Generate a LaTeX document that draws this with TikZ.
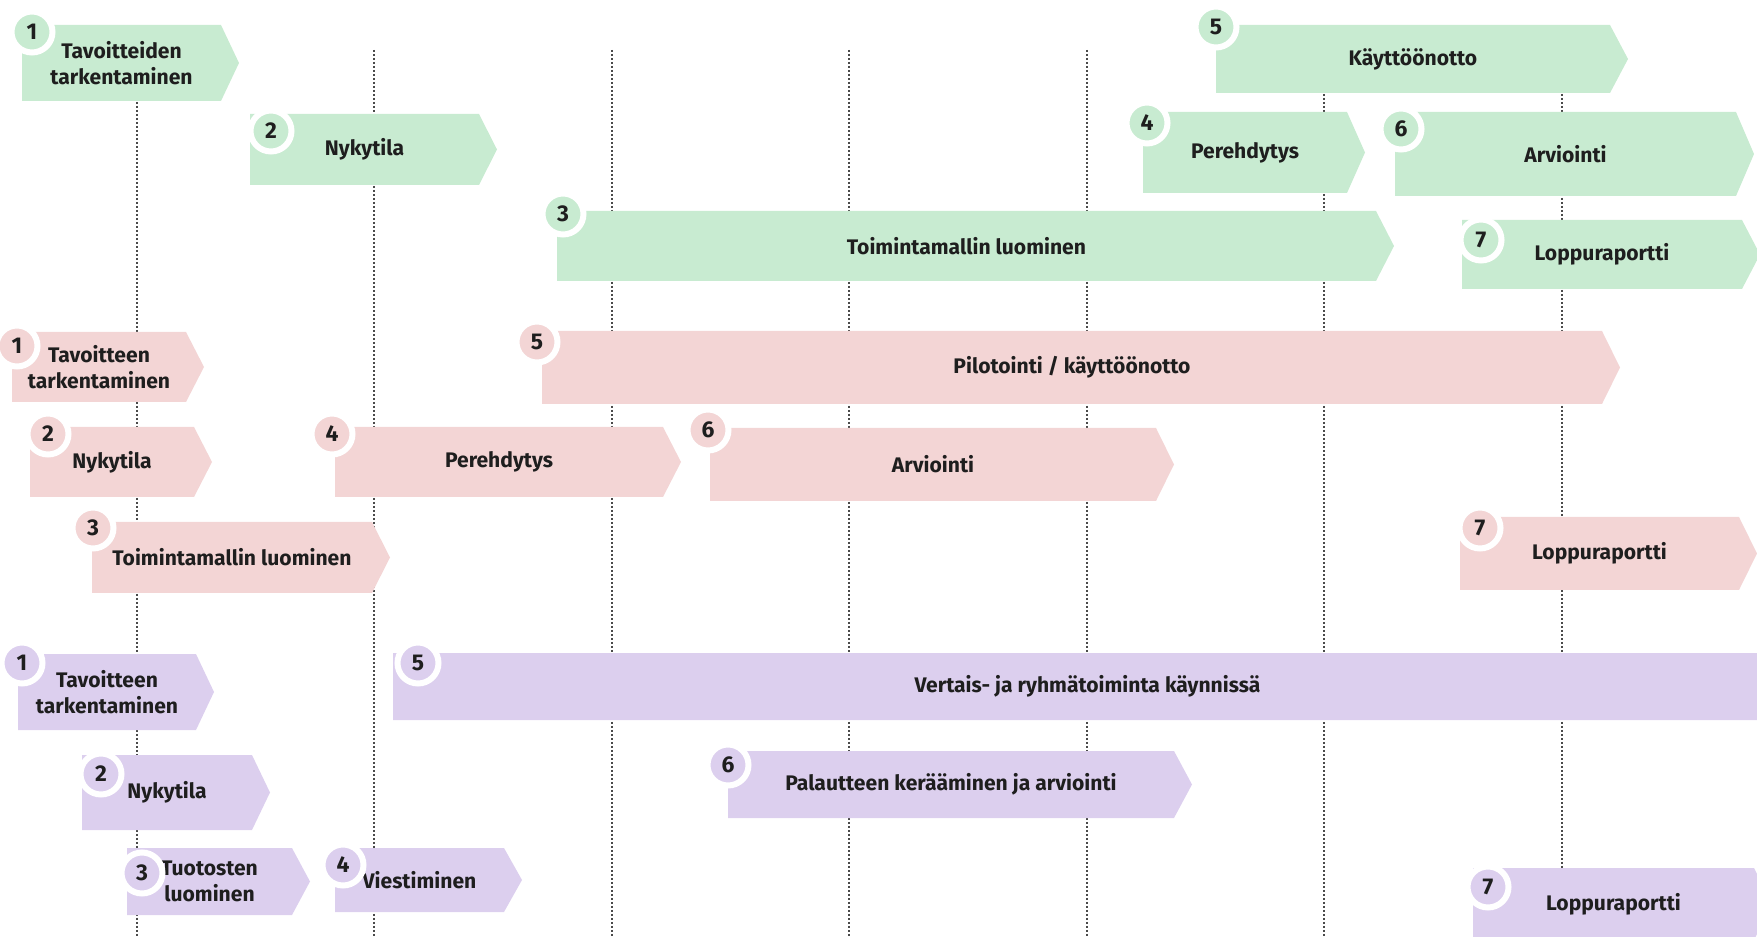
\documentclass[tikz,border=0pt]{standalone}
\usepackage{fontspec}
\setmainfont{Fira Sans}
\usetikzlibrary{positioning}

\definecolor{vihrea}{HTML}{C8EBD1}
\definecolor{roosa}{HTML}{F3D5D5}
\definecolor{lila}{HTML}{DCCFEE}
\definecolor{viivavari}{HTML}{4A4A4A}
\definecolor{tekstivari}{HTML}{1E1E1E}

\tikzset{
  vaiheteksti/.style={font=\fontsize{12}{15}\selectfont\bfseries, text=tekstivari, align=center, inner sep=0pt},
  pallo/.style={circle, draw=white, line width=1.2mm, minimum size=8.2mm, inner sep=0pt,
    font=\fontsize{13}{13}\selectfont\bfseries, text=tekstivari},
  aikaviiva/.style={viivavari, line width=0.3mm, dash pattern=on 0.4mm off 0.4mm},
}

% #1 nimi, #2 vari, #3-#6 palkin reunat, #7 pallon paikka, #8 numero, #9 teksti
\newcommand{\vaihe}[9]{%
  \fill[#2] (#3,#4) -- ({#5-18},#4) -- (#5,{(#4+#6)/2}) -- ({#5-18},#6) -- (#3,#6) -- cycle;
  \node[vaiheteksti] (#1) at ({(#3+#5-18)/2},{(#4+#6)/2}) {#9};
  \node[pallo, fill=#2] (#1-nro) at #7 {#8};
}

\begin{document}
\begin{tikzpicture}[x=0.2mm, y=-0.2mm]

	\useasboundingbox (0,0) rectangle (1757,937);

	% aikajanan pystyviivat
	\foreach \x in {137,374,612,849,1087,1324,1562}
		\draw [aikaviiva] (\x,50) -- (\x,937);

	% vihrea rivi
	\vaihe{v1}{vihrea}{22}{25}{239}{101}{(32,32)}{1}{Tavoitteiden\\tarkentaminen}
	\vaihe{v2}{vihrea}{250}{114}{497}{185}{(271,131)}{2}{Nykytila}
	\vaihe{v3}{vihrea}{557}{211}{1394}{281}{(563,214)}{3}{Toimintamallin luominen}
	\vaihe{v4}{vihrea}{1143}{112}{1365}{193}{(1147,123)}{4}{Perehdytys}
	\vaihe{v5}{vihrea}{1216}{25}{1628}{93}{(1216,27)}{5}{Käyttöönotto}
	\vaihe{v6}{vihrea}{1395}{112}{1754}{196}{(1401,129)}{6}{Arviointi}
	\vaihe{v7}{vihrea}{1462}{220}{1760}{289}{(1481,240)}{7}{Loppuraportti}

	% roosa rivi
	\vaihe{r1}{roosa}{12}{332}{204}{402}{(17,346)}{1}{Tavoitteen\\tarkentaminen}
	\vaihe{r2}{roosa}{30}{427}{212}{497}{(48,434)}{2}{Nykytila}
	\vaihe{r3}{roosa}{92}{522}{390}{593}{(93,528)}{3}{Toimintamallin luominen}
	\vaihe{r4}{roosa}{335}{427}{681}{497}{(332,434)}{4}{Perehdytys}
	\vaihe{r5}{roosa}{542}{331}{1620}{404}{(537,342)}{5}{Pilotointi / käyttöönotto}
	\vaihe{r6}{roosa}{710}{428}{1174}{501}{(708,430)}{6}{Arviointi}
	\vaihe{r7}{roosa}{1460}{517}{1757}{590}{(1480,528)}{7}{Loppuraportti}

	% lila rivi
	\vaihe{l1}{lila}{18}{654}{214}{730}{(22,663)}{1}{Tavoitteen\\tarkentaminen}
	\vaihe{l2}{lila}{82}{755}{270}{830}{(101,774)}{2}{Nykytila}
	\vaihe{l3}{lila}{127}{848}{310}{915}{(142,873)}{3}{Tuotosten\\luominen}
	\vaihe{l4}{lila}{335}{848}{522}{912}{(343,865)}{4}{Viestiminen}
	\vaihe{l5}{lila}{393}{653}{1800}{720}{(418,663)}{5}{Vertais- ja ryhmätoiminta käynnissä}
	\vaihe{l6}{lila}{728}{751}{1192}{818}{(728,765)}{6}{Palautteen kerääminen ja arviointi}
	\vaihe{l7}{lila}{1473}{868}{1772}{940}{(1488,887)}{7}{Loppuraportti}

\end{tikzpicture}
\end{document}
